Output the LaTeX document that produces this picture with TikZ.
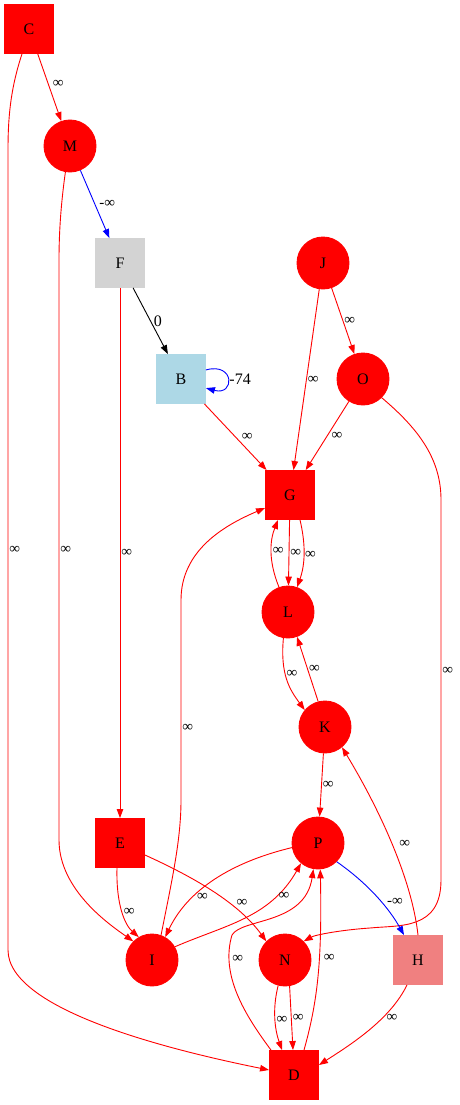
\documentclass[tikz,border=0pt]{standalone}
\usepackage{fontspec}
\setmainfont{Liberation Serif}
\usetikzlibrary{arrows.meta}
\definecolor{gvred}{HTML}{FF0000}
\definecolor{gvblue}{HTML}{0000FF}
\definecolor{gvgray}{HTML}{D3D3D3}
\definecolor{gvlblue}{HTML}{ADD8E6}
\definecolor{gvcoral}{HTML}{F08080}
\begin{document}
\begin{tikzpicture}[x=1pt,y=-1pt,
  >={Triangle[length=9pt,width=6.5pt]},line width=0.9pt,
  font=\fontsize{16}{16}\selectfont,
  sq/.style={rectangle,minimum size=49pt,inner sep=0pt},
  rnd/.style={circle,minimum size=52pt,inner sep=0pt,fill=gvred,draw=gvred},
  wt/.style={inner sep=1pt,font=\fontsize{15}{15}\selectfont},
  num/.style={inner sep=1pt,font=\fontsize{16}{16}\selectfont},
  redge/.style={->,draw=gvred},
  bedge/.style={->,draw=gvblue}]
  \useasboundingbox (0,0) rectangle (460,1105);

  % Nodes
  \node[sq,fill=gvred,draw=gvred] (C) at (29,29) {C};
  \node[rnd] (M) at (70,146) {M};
  \node[sq,fill=gvgray,draw=gvgray] (F) at (120,263) {F};
  \node[rnd] (J) at (323,263) {J};
  \node[sq,fill=gvlblue,draw=gvlblue] (B) at (181,379) {B};
  \node[rnd] (O) at (363,379) {O};
  \node[sq,fill=gvred,draw=gvred] (G) at (290,495) {G};
  \node[rnd] (L) at (288,612) {L};
  \node[rnd] (K) at (325,727) {K};
  \node[sq,fill=gvred,draw=gvred] (E) at (120,843) {E};
  \node[rnd] (P) at (318,843) {P};
  \node[rnd] (I) at (152,960) {I};
  \node[rnd] (N) at (285,960) {N};
  \node[sq,fill=gvcoral,draw=gvcoral] (H) at (418,960) {H};
  \node[sq,fill=gvred,draw=gvred] (D) at (294,1075) {D};

  % Edges from the top
  \draw[redge] (C) -- node[wt,pos=0.45,right,xshift=3pt] {∞} (M);
  \draw[redge] ([xshift=-7pt]C.south) .. controls (10,90) and (8,120) .. (8,150)
    -- node[wt,right] {∞} (8,950)
    .. controls (8,1010) and (170,1050) .. ([yshift=5pt]D.west);
  \draw[bedge] (M) -- node[wt,right,xshift=3pt] {-∞} (F);
  \draw[redge] (M.-100) .. controls (60,210) and (59,240) .. (59,260)
    -- node[wt,right] {∞} (59,840)
    .. controls (59,890) and (110,925) .. (I.135);
  \draw[->,draw=black] (F) -- node[num,right,xshift=2pt] {0} (B);
  \draw[redge] (F) -- node[wt,right] {∞} (E);
  \draw[bedge] (B.20) .. controls (235,362) and (235,396) .. (B.-20);
  \node[num,anchor=west,inner sep=0pt] (loopwt) at (229,379) {-74};
  \draw[redge] (B) -- node[wt,right,xshift=5pt] {∞} (G);
  \draw[redge] (J) -- node[wt,right] {∞} (G);
  \draw[redge] (J) -- node[wt,right] {∞} (O);
  \draw[redge] (O) -- node[wt,right,xshift=3pt] {∞} (G);
  \draw[redge] (O.-45) .. controls (420,430) and (441,460) .. (441,500)
    -- node[wt,pos=0.45,right] {∞} (441,880)
    .. controls (441,930) and (400,925) .. (370,928)
    .. controls (340,930) and (315,935) .. (N.45);

  % G, L, K
  \draw[redge] (L.110) .. controls (268,560) and (270,540) .. node[wt,right] {∞} ([xshift=-12pt]G.south);
  \draw[redge] (G) -- node[wt,right] {∞} (L);
  \draw[redge] ([xshift=10pt]G.south) .. controls (306,545) and (305,565) .. node[wt,right] {∞} (L.70);
  \draw[redge] (L.-100) .. controls (280,675) and (290,690) .. node[wt,pos=0.4,right] {∞} (K.140);
  \draw[redge] (K.105) -- node[wt,right] {∞} (L.-70);
  \draw[redge] (K) -- node[wt,right] {∞} (P);
  \draw[redge] (H.north) .. controls (412,880) and (380,810) .. node[wt,pos=0.5,right,xshift=6pt] {∞} (K.-50);
  \draw[redge] (I.70) .. controls (172,880) and (181,840) .. (181,800)
    -- node[wt,pos=0.36,right] {∞} (181,600)
    .. controls (181,550) and (225,525) .. ([yshift=-13pt]G.west);

  % Lower rows
  \draw[redge] ([xshift=-3pt]E.south) .. controls (116,905) and (125,925) .. node[wt,right] {∞} (I.120);
  \draw[redge] ([yshift=-12pt]E.east) .. controls (200,880) and (240,905) .. node[wt,pos=0.6,right,xshift=7pt] {∞} (N.135);
  \draw[redge] (P.190) .. controls (240,860) and (190,885) .. node[wt,pos=0.7,right,xshift=2pt] {∞} (I.60);
  \draw[redge] (I.30) .. controls (225,925) and (270,918) .. node[wt,pos=0.75,right,xshift=2pt] {∞} (P.-130);
  \draw[bedge] (P.-45) .. controls (370,885) and (390,910) .. node[wt,pos=0.55,right,xshift=5pt] {-∞} ([xshift=-14pt]H.north);
  \draw[redge] ([xshift=-23pt]D.north) .. controls (245,1015) and (220,975) .. node[wt,pos=0.8,right,xshift=2pt] {∞} (232,935)
    .. controls (242,918) and (305,925) .. (P.-100);
  \draw[redge] ([xshift=10pt]D.north) .. controls (318,1000) and (322,960) .. node[wt,pos=0.6,right,xshift=3pt] {∞} (P.-85);
  \draw[redge] (N.-105) .. controls (272,1010) and (275,1030) .. node[wt,right] {∞} ([xshift=-12pt]D.north);
  \draw[redge] (N.-80) -- node[wt,right] {∞} ([xshift=-1pt]D.north);
  \draw[redge] ([xshift=-11pt]H.south) .. controls (390,1020) and (350,1045) .. node[wt,pos=0.35,right,xshift=3pt] {∞} ([yshift=10pt]D.east);
\end{tikzpicture}
\end{document}
